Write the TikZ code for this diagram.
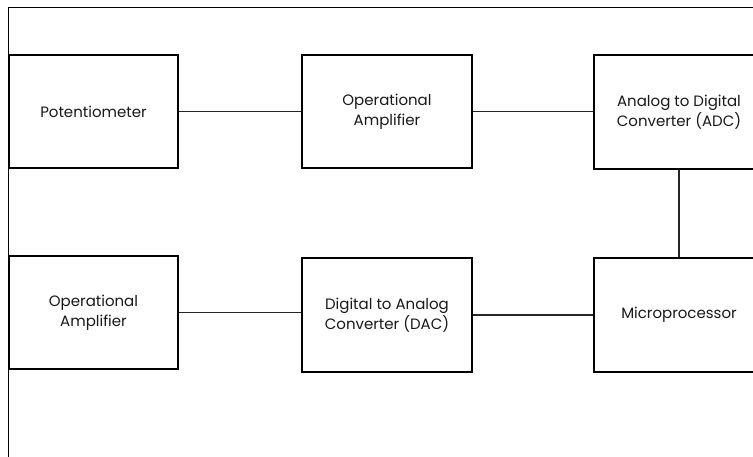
\documentclass[tikz,border=0pt]{standalone}
\usepackage{fontspec}
\setmainfont{Poppins}
\begin{document}
\begin{tikzpicture}[x=1pt,y=1pt,
  blk/.style={draw=black, line width=1.6pt, fill=white, inner sep=0pt, align=center,
    font=\fontsize{15}{20}\selectfont, text=black!90},
  wire/.style={draw=black!85, line width=1.1pt}]
\useasboundingbox (0,0) rectangle (753,-457);
\clip (0,0) rectangle (753,-457);
\draw[line width=1.8pt] (8.5,-600) -- (8.5,-7.5) -- (900,-7.5);
\node[blk, minimum width=169, minimum height=113] (pot) at (93.5,-111.5) {Potentiometer};
\node[blk, minimum width=170, minimum height=113] (oa1) at (387,-111.5) {Operational\\Amplifier};
\node[blk, minimum width=170, minimum height=114] (adc) at (679,-112) {Analog to Digital\\Converter (ADC)};
\node[blk, minimum width=169, minimum height=113] (oa2) at (93.5,-312.5) {Operational\\Amplifier};
\node[blk, minimum width=170, minimum height=114] (dac) at (387,-315) {Digital to Analog\\Converter (DAC)};
\node[blk, minimum width=170, minimum height=114] (mpu) at (679,-315) {Microprocessor};
\draw[wire] (pot.east) -- (oa1.west);
\draw[wire] (oa1.east) -- (oa1.east -| adc.west);
\draw[wire] (adc.south) -- (mpu.north);
\draw[wire] (oa2.east) -- (oa2.east -| dac.west);
\draw[wire] (dac.east) -- (mpu.west);
\end{tikzpicture}
\end{document}
